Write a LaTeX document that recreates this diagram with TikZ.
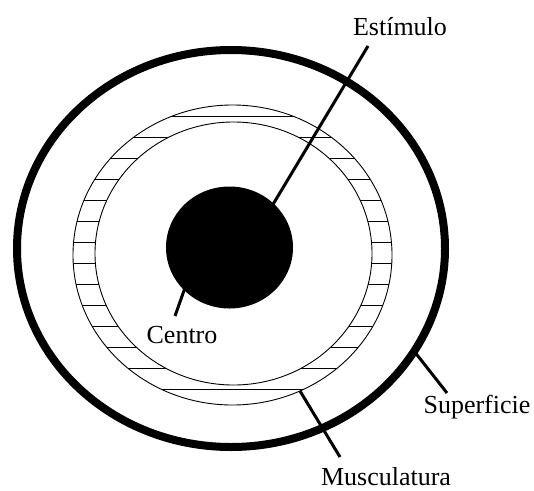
\documentclass[tikz,border=0pt]{standalone}
\usepackage{fontspec}
\setmainfont{Liberation Serif}
\usetikzlibrary{positioning}
\definecolor{color_text}{HTML}{000000}
\tikzset{
  outer_wall/.style={draw=color_text, line width=8pt},
  ring_line/.style={draw=color_text, line width=0.9pt},
  hatch_line/.style={draw=color_text, line width=0.9pt},
  core_fill/.style={fill=color_text},
  pointer_line/.style={draw=color_text, line width=3pt},
  figure_label/.style={font=\fontsize{26}{30}\selectfont, text=color_text, inner sep=0pt, anchor=base},
}

\begin{document}
\begin{tikzpicture}[x=1pt, y=-1pt]
  \useasboundingbox (0,0) rectangle (534,490);

  % labels
  \node[figure_label] (stim_label)    at (400,35)  {Estímulo};
  \node[figure_label] (centre_label)  at (182,343) {Centro};
  \node[figure_label] (surface_label) at (477,413) {Superficie};
  \node[figure_label] (muscle_label)  at (386,485) {Musculatura};

  % pointer ends
  \coordinate (stim_tip)     at (368,46);
  \coordinate (stim_end)     at (248,246);
  \coordinate (centre_tip)   at (175,316);
  \coordinate (centre_end)   at (192,268);
  \coordinate (surface_tip)  at (447,393);
  \coordinate (surface_end)  at (414,351);
  \coordinate (muscle_tip)   at (340,457);
  \coordinate (muscle_end)   at (300,391);

  % surface
  \draw[outer_wall] (231,248.5) ellipse [x radius=214, y radius=198.5];

  % musculature ring
  \begin{scope}[even odd rule]
    \clip (232.5,255) ellipse [x radius=159.5, y radius=150]
          (233.5,253.5) ellipse [x radius=138.5, y radius=131.5];
    \foreach \y in {116,137,...,402}
      \draw[hatch_line] (60,\y) -- (410,\y);
  \end{scope}
  \draw[ring_line] (232.5,255) ellipse [x radius=159.5, y radius=150];
  \draw[ring_line] (233.5,253.5) ellipse [x radius=138.5, y radius=131.5];

  \draw[pointer_line] (stim_tip) -- (stim_end);
  \draw[pointer_line] (centre_tip) -- (centre_end);

  % centre
  \fill[core_fill] (229.5,247.5) ellipse [x radius=63.5, y radius=61];

  \draw[pointer_line] (surface_end) -- (surface_tip);
  \draw[pointer_line] (muscle_end) -- (muscle_tip);
\end{tikzpicture}
\end{document}
